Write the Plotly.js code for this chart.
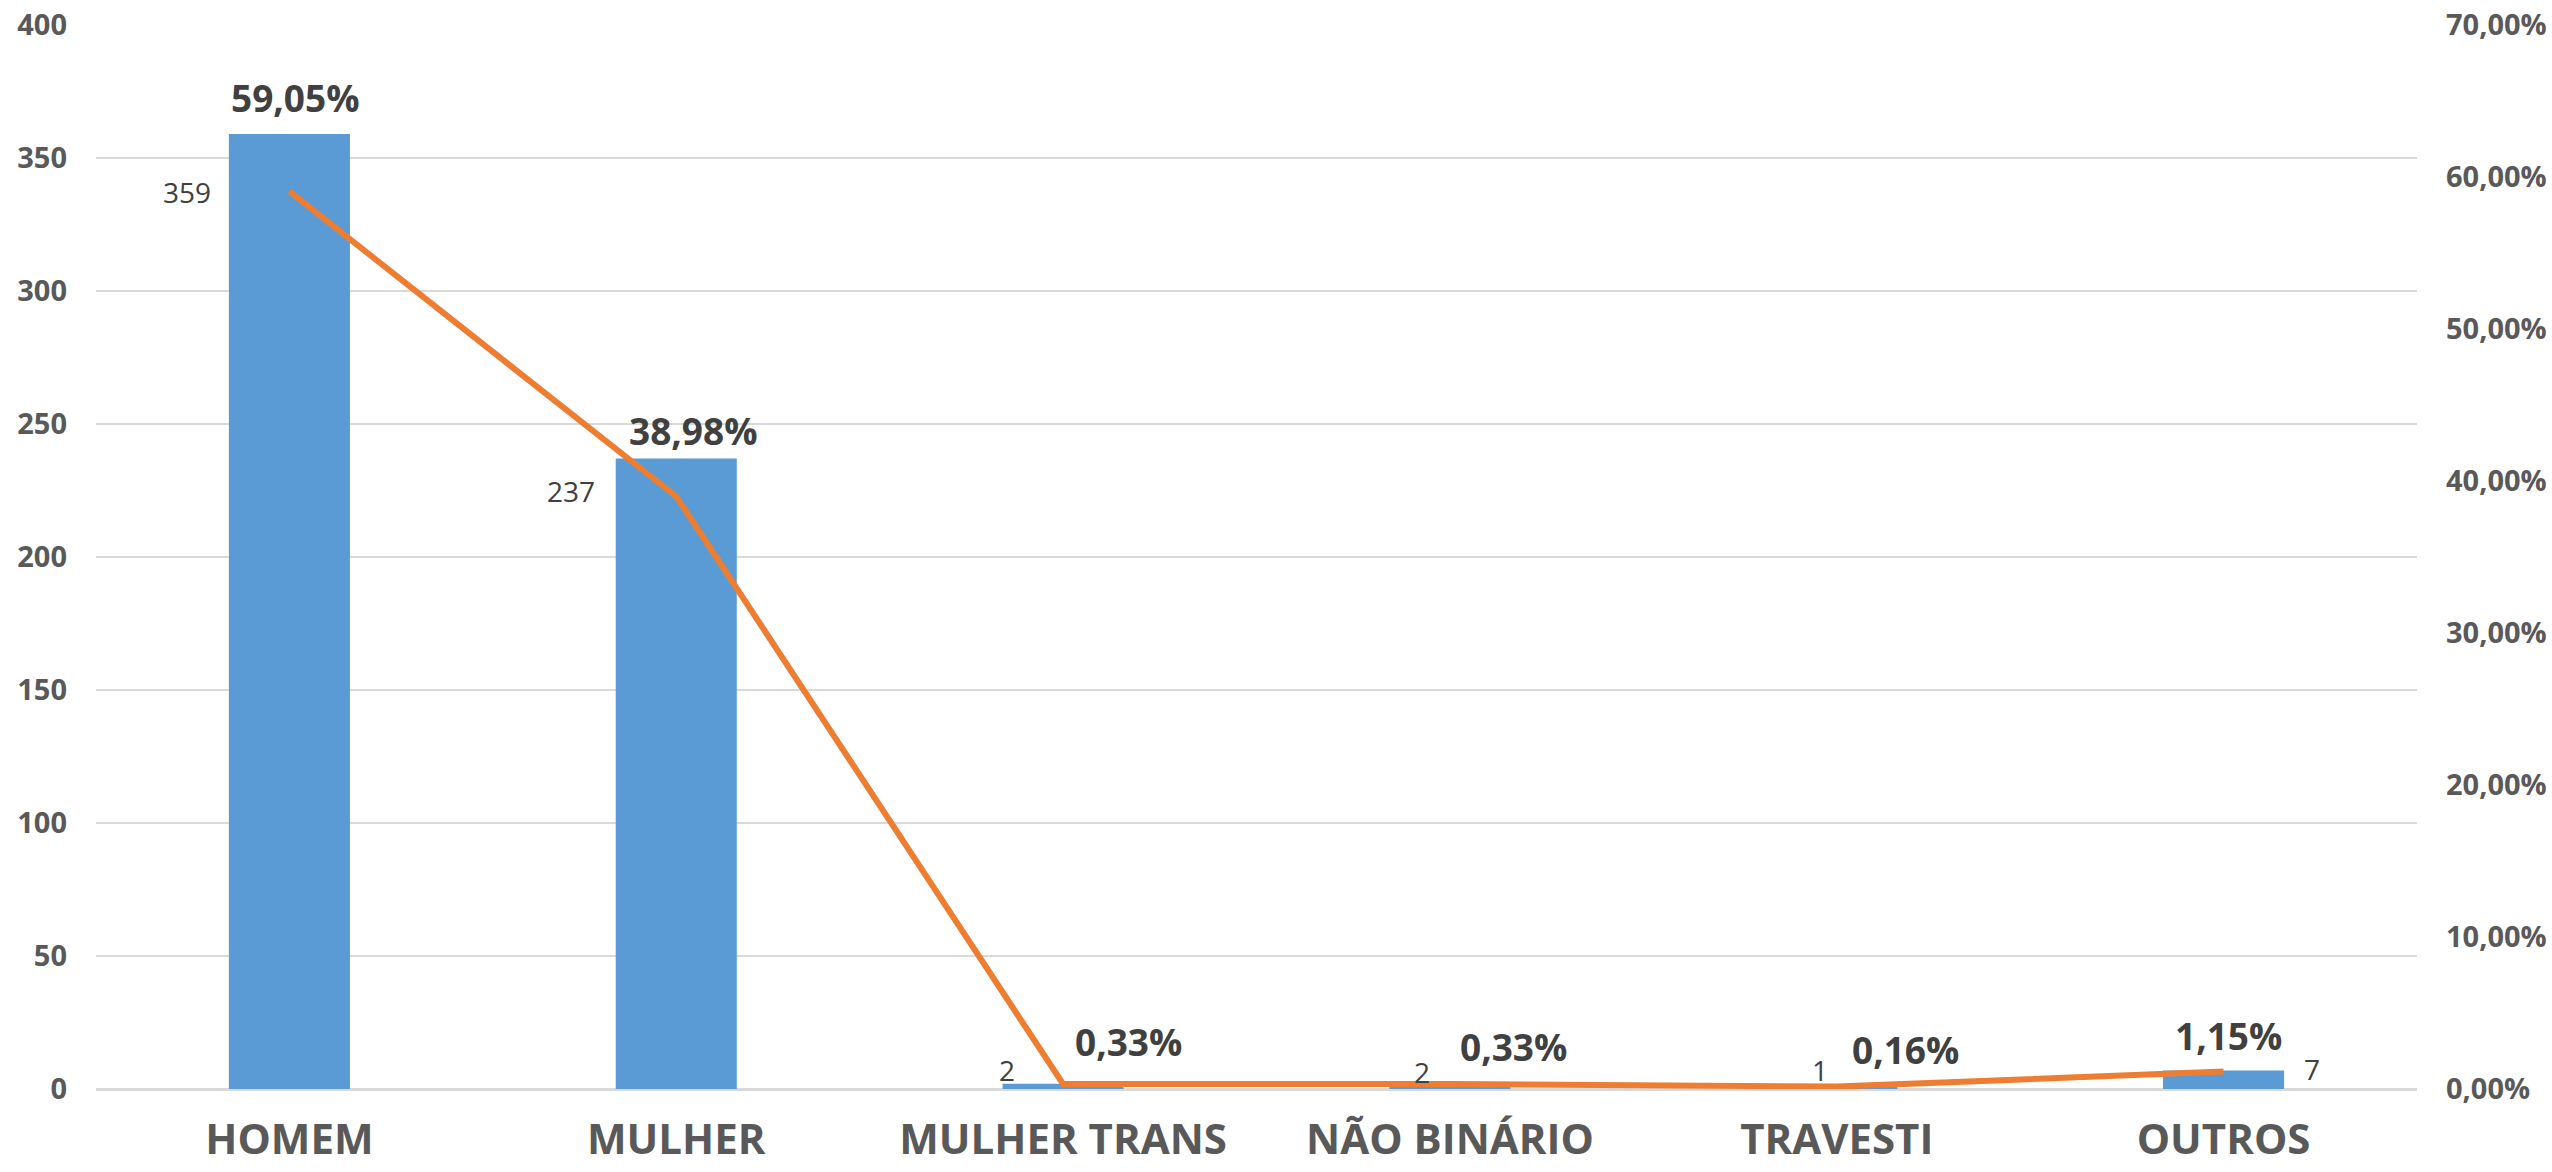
<!DOCTYPE html>
<html>
<head>
<meta charset="utf-8">
<script src="https://cdn.plot.ly/plotly-3.0.1.min.js"></script>
<style>html,body{margin:0;padding:0;background:#fff;}#chart{width:2552px;height:1172px;}</style>
</head>
<body>
<div id="chart"></div>
<script>
// ---- data ----
const categories = ["HOMEM", "MULHER", "MULHER TRANS", "NÃO BINÁRIO", "TRAVESTI", "OUTROS"];
const counts = [359, 237, 2, 2, 1, 7];
const percents = [59.05, 38.98, 0.33, 0.33, 0.16, 1.15];
const percentLabels = ["59,05%", "38,98%", "0,33%", "0,33%", "0,16%", "1,15%"];
const countLabels = ["359", "237", "2", "2", "1", "7"];

// ---- label placement (pixel offsets from the line points) ----
const pctShiftX = [6, 17, 65, 64, 69, 5];
const pctShiftY = [94, 66, 42, 37, 37, 36];
const cntShiftX = [-102, -105, -56, -28, -17, 88];
const cntShiftY = [-1, 6, 14, 12, 17, 3];

const FONT = "Open Sans, Liberation Sans, sans-serif";
const pctFrac = percents.map(v => v / 100);

const traces = [
  {
    type: "bar", x: categories, y: counts, yaxis: "y",
    marker: {color: "#5B9BD5"}, hoverinfo: "x+y", showlegend: false
  },
  {
    type: "scatter", mode: "lines", x: categories, y: pctFrac, yaxis: "y2",
    line: {color: "#ED7D31", width: 6}, showlegend: false
  }
];

const annotations = [];
categories.forEach((c, i) => {
  annotations.push({
    x: c, y: pctFrac[i], xref: "x", yref: "y2",
    text: "<b>" + percentLabels[i] + "</b>", showarrow: false,
    xanchor: "center", yanchor: "middle",
    xshift: pctShiftX[i], yshift: pctShiftY[i],
    font: {family: FONT, size: 37, color: "#404040"}
  });
  annotations.push({
    x: c, y: pctFrac[i], xref: "x", yref: "y2",
    text: countLabels[i], showarrow: false,
    xanchor: "center", yanchor: "middle",
    xshift: cntShiftX[i], yshift: cntShiftY[i],
    font: {family: FONT, size: 28, color: "#404040"}
  });
});

const layout = {
  width: 2552, height: 1172,
  paper_bgcolor: "#ffffff", plot_bgcolor: "#ffffff",
  margin: {l: 96, r: 135, t: 25, b: 83, autoexpand: false},
  separators: ",.",
  bargap: 0.687,
  showlegend: false,
  font: {family: FONT},
  xaxis: {
    type: "category",
    showgrid: false, zeroline: false, showline: false, ticks: "",
    tickfont: {family: FONT, size: 42, color: "#595959", weight: 700},
    ticklabelstandoff: 22
  },
  yaxis: {
    range: [0, 400], dtick: 50, tick0: 0,
    showgrid: true, gridcolor: "#d9d9d9", gridwidth: 2,
    zeroline: true, zerolinecolor: "#d9d9d9", zerolinewidth: 3,
    showline: false, ticks: "",
    tickfont: {family: FONT, size: 29, color: "#595959", weight: 700},
    ticklabelstandoff: 28
  },
  yaxis2: {
    overlaying: "y", side: "right",
    range: [0, 0.7], dtick: 0.1, tick0: 0, tickformat: ".2%",
    showgrid: false, zeroline: false, showline: false, ticks: "",
    tickfont: {family: FONT, size: 29, color: "#595959", weight: 700},
    ticklabelstandoff: 28
  },
  annotations: annotations
};

Plotly.newPlot("chart", traces, layout, {displayModeBar: false, staticPlot: true});
</script>
</body>
</html>
